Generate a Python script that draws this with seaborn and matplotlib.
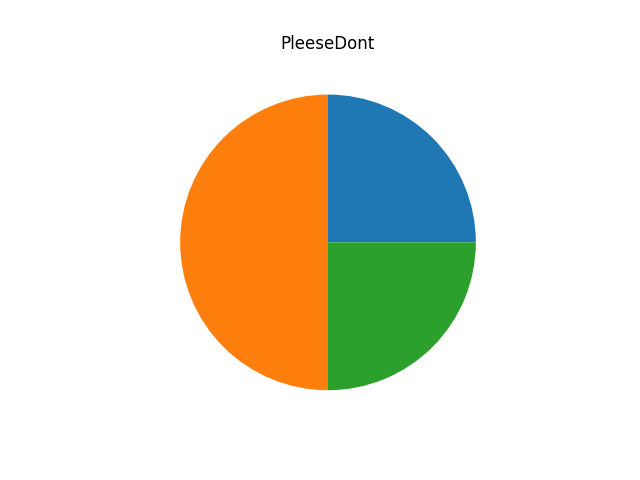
import matplotlib
matplotlib.use("Agg")
import matplotlib.pyplot as plt
import seaborn as sns

# slice data (counter-clockwise from 3 o'clock)
labels = ["A", "B", "C"]
sizes = [25, 50, 25]

colors = sns.color_palette("tab10", n_colors=len(sizes))

fig, ax = plt.subplots(figsize=(6.4, 4.8), dpi=100)
ax.pie(sizes, colors=colors)
ax.set_title("PleeseDont")

fig.savefig("out.png", dpi=100)
plt.close(fig)
